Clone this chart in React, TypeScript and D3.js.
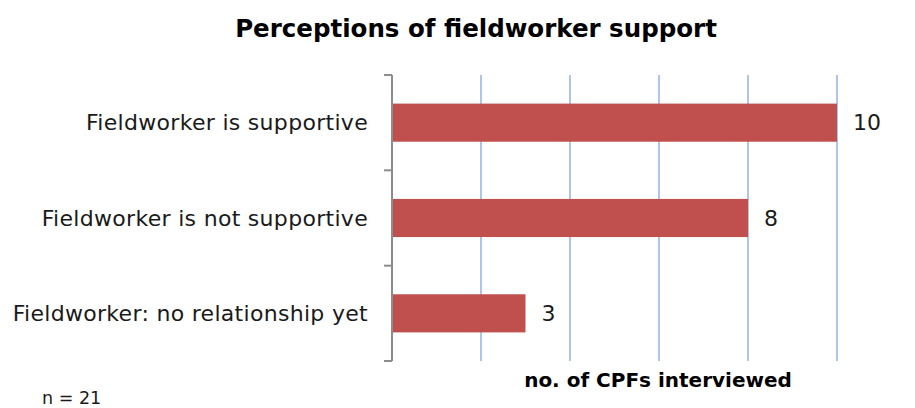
import { useEffect, useRef } from "react";
import * as d3 from "d3";

const categories = [
  "Fieldworker is supportive",
  "Fieldworker is not supportive",
  "Fieldworker: no relationship yet",
];
const counts = [10, 8, 3];
const xTicks = [0, 2, 4, 6, 8, 10];

const chartTitle = "Perceptions of fieldworker support";
const axisTitle = "no. of CPFs interviewed";
const note = "n = 21";

export default function App() {
  const svgRef = useRef<SVGSVGElement | null>(null);

  useEffect(() => {
    document.body.style.margin = "0";
    const width = 915;
    const height = 408;
    const margin = { top: 75, right: 78, bottom: 47, left: 392 };
    const font = "'DejaVu Sans', 'Liberation Sans', sans-serif";

    const svg = d3.select(svgRef.current);
    svg.attr("width", width).attr("height", height);
    svg.selectAll("*").remove();

    const x = d3
      .scaleLinear()
      .domain([0, 10])
      .range([margin.left, width - margin.right]);

    const y = d3
      .scaleBand()
      .domain(categories)
      .range([margin.top, height - margin.bottom])
      .paddingInner(0.6)
      .paddingOuter(0.3);

    const top = margin.top;
    const bottom = height - margin.bottom;

    // vertical gridlines
    svg
      .append("g")
      .selectAll("line")
      .data(xTicks.filter((t) => t > 0))
      .join("line")
      .attr("x1", (d) => x(d))
      .attr("x2", (d) => x(d))
      .attr("y1", top)
      .attr("y2", bottom)
      .attr("stroke", "#a7bee6")
      .attr("stroke-width", 1.8);

    // bars
    svg
      .append("g")
      .selectAll("rect")
      .data(counts)
      .join("rect")
      .attr("x", x(0))
      .attr("y", (_, i) => y(categories[i]) as number)
      .attr("width", (d) => x(d) - x(0))
      .attr("height", y.bandwidth())
      .attr("fill", "#c0504d");

    // category axis
    const step = (bottom - top) / categories.length;
    const axis = svg.append("g").attr("stroke", "#8c8c8c").attr("stroke-width", 2);
    axis
      .append("line")
      .attr("x1", x(0))
      .attr("x2", x(0))
      .attr("y1", top)
      .attr("y2", bottom);
    axis
      .selectAll("line.tick")
      .data(d3.range(categories.length + 1))
      .join("line")
      .attr("class", "tick")
      .attr("x1", x(0) - 8)
      .attr("x2", x(0))
      .attr("y1", (d) => top + d * step)
      .attr("y2", (d) => top + d * step);

    // category labels
    svg
      .append("g")
      .selectAll("text")
      .data(categories)
      .join("text")
      .attr("x", x(0) - 24)
      .attr("y", (d) => (y(d) as number) + y.bandwidth() / 2)
      .attr("dy", "0.35em")
      .attr("text-anchor", "end")
      .attr("font-family", font)
      .attr("font-size", 22)
      .attr("letter-spacing", 0.3)
      .attr("fill", "#1a1a1a")
      .text((d) => d);

    // value labels
    svg
      .append("g")
      .selectAll("text")
      .data(counts)
      .join("text")
      .attr("x", (d) => x(d) + 16)
      .attr("y", (_, i) => (y(categories[i]) as number) + y.bandwidth() / 2)
      .attr("dy", "0.35em")
      .attr("font-family", font)
      .attr("font-size", 22)
      .attr("fill", "#1a1a1a")
      .text((d) => d);

    svg
      .append("text")
      .attr("x", 476)
      .attr("y", 37)
      .attr("text-anchor", "middle")
      .attr("font-family", font)
      .attr("font-weight", "bold")
      .attr("font-size", 24.5)
      .attr("fill", "#000")
      .text(chartTitle);

    svg
      .append("text")
      .attr("x", 658)
      .attr("y", 387)
      .attr("text-anchor", "middle")
      .attr("font-family", font)
      .attr("font-weight", "bold")
      .attr("font-size", 20)
      .attr("fill", "#000")
      .text(axisTitle);

    svg
      .append("text")
      .attr("x", 42)
      .attr("y", 404)
      .attr("font-family", font)
      .attr("font-size", 17.5)
      .attr("fill", "#1a1a1a")
      .text(note);
  }, []);

  return <svg ref={svgRef} style={{ display: "block" }} />;
}
